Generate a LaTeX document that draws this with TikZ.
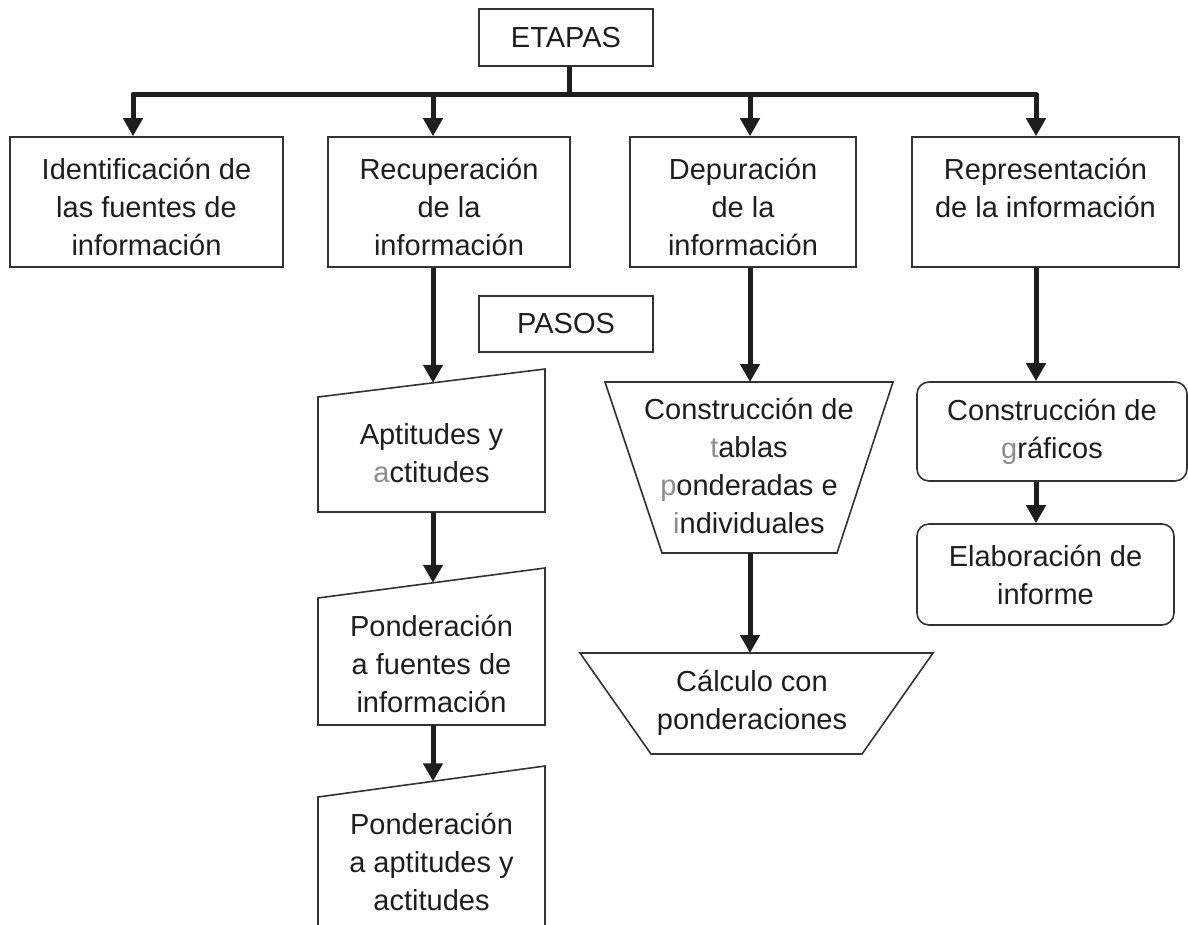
\documentclass[tikz,border=0pt]{standalone}
\usepackage{fontspec}
\setmainfont{Liberation Sans}
\usetikzlibrary{arrows.meta}
\definecolor{ink}{HTML}{1E1E1E}
\definecolor{edge}{HTML}{333333}
\definecolor{soft}{HTML}{8C8C8C}
\begin{document}
\begin{tikzpicture}[x=1pt,y=-1pt,
  txt/.style={font=\fontsize{29}{38}\selectfont, text=ink, align=center, inner sep=0pt},
  box/.style={txt, draw=edge, line width=1.6pt},
  topbox/.style={box, minimum height=130, text height=106pt, text depth=0pt},
  shapeline/.style={draw=edge, line width=1.6pt, line join=miter},
  arr/.style={line width=5pt, draw=ink, line join=round, -{Triangle[width=19pt,length=18pt]}},
  bus/.style={line width=5pt, draw=ink, line join=round},
]
\useasboundingbox[fill=white] (0,0) rectangle (1188,924);

% ---- top level ----
\node[box, minimum width=174, minimum height=57] (etapas) at (566,37.5) {ETAPAS};

\node[topbox, minimum width=273] (b1) at (146.5,202)
  {Identificación de\\las fuentes de\\información};
\node[topbox, minimum width=242] (b2) at (449,202)
  {Recuperación\\de la\\información};
\node[topbox, minimum width=226] (b3) at (743,202)
  {Depuración\\de la\\información};
\node[topbox, minimum width=267] (b4) at (1045.5,202)
  {Representación\\de la información\\\phantom{n}};

\coordinate (j1) at (133,94);
\coordinate (j2) at (433,94);
\coordinate (j3) at (750,94);
\coordinate (j4) at (1036,94);
\coordinate (jm) at (569,94);

\draw[bus] (etapas.south -| jm) -- (jm);
\draw[arr] (jm) -- (j1) -- (j1 |- b1.north);
\draw[arr] (jm) -- (j4) -- (j4 |- b4.north);
\draw[arr] (j2) -- (j2 |- b2.north);
\draw[arr] (j3) -- (j3 |- b3.north);

% ---- PASOS ----
\node[box, minimum width=174, minimum height=56] (pasos) at (566,324) {PASOS};

% ---- column 2 : manual input shapes ----
\draw[shapeline] (318,512) -- (318,397) -- (545,369) -- (545,512) -- cycle;
\coordinate (aptTop) at (433,382.8);
\coordinate (aptBot) at (433,512);
\node[txt] (apt) at (431.5,453) {Aptitudes y\\\textcolor{soft}{a}ctitudes};

\draw[shapeline] (318,725) -- (318,598) -- (545,568) -- (545,725) -- cycle;
\coordinate (pf1Top) at (433,582.8);
\coordinate (pf1Bot) at (433,725);
\node[txt] (pf1) at (431.5,664) {Ponderación\\a fuentes de\\información};

\draw[shapeline] (318,926) -- (318,797) -- (545,766) -- (545,926);
\coordinate (pf2Top) at (433,781.3);
\node[txt] (pf2) at (431.5,862) {Ponderación\\a aptitudes y\\actitudes};

\draw[arr] (b2.south -| j2) -- (aptTop);
\draw[arr] (aptBot) -- (pf1Top);
\draw[arr] (pf1Bot) -- (pf2Top);

% ---- column 3 : trapezoids ----
\draw[shapeline] (605,382) -- (893,382) -- (837,553) -- (662,553) -- cycle;
\coordinate (t1Top) at (750,382);
\coordinate (t1Bot) at (750,553);
\node[txt] (t1) at (749,466)
  {Construcción de\\\textcolor{soft}{t}ablas\\\textcolor{soft}{p}onderadas e\\\textcolor{soft}{i}ndividuales};

\draw[shapeline] (580,653) -- (933,653) -- (862,754) -- (651,754) -- cycle;
\coordinate (t2Top) at (750,653);
\node[txt] (t2) at (752,703) {Cálculo con\\ponderaciones};

\draw[arr] (b3.south -| j3) -- (t1Top);
\draw[arr] (t1Bot) -- (t2Top);

% ---- column 4 : rounded boxes ----
\node[box, rounded corners=12pt, minimum width=270, minimum height=99] (r1) at (1052,431.5)
  {Construcción de\\\textcolor{soft}{g}ráficos};
\node[box, rounded corners=12pt, minimum width=257, minimum height=101] (r2) at (1045.5,574.5)
  {Elaboración de\\informe};

\draw[arr] (b4.south -| j4) -- (r1.north -| j4);
\draw[arr] (r1.south -| j4) -- (r2.north -| j4);
\end{tikzpicture}
\end{document}
